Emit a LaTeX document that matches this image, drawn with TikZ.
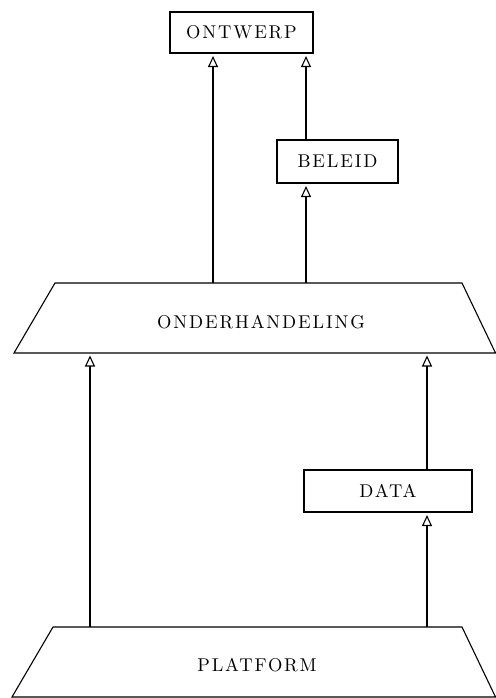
\documentclass[tikz,border=0pt]{standalone}
\usepackage{fontspec}
\usepackage{graphicx}
\usetikzlibrary{arrows.meta}
\newfontfamily\labelfont[LetterSpace=10]{Latin Modern Roman}
% label text: 10pt design size enlarged, so the wide text cut is kept
\newcommand{\blocklabel}[1]{\scalebox{1.85}{\labelfont\fontsize{10}{12}\selectfont #1}}
\begin{document}
\begin{tikzpicture}[x=1pt,y=-1pt,
  line width=1.1pt,
  lbl/.style={inner sep=0pt},
  boxnode/.style={draw, rectangle, lbl},
  flow/.style={-{Triangle[open,length=11pt,width=10pt,line width=1.1pt]}, shorten >=2.5pt}
]
\useasboundingbox (0,0) rectangle (495,698);

% rectangular blocks
\node[boxnode, minimum width=143pt, minimum height=41pt] (ontwerp) at (241.5,32.5) {\blocklabel{ONTWERP}};
\node[boxnode, minimum width=121pt, minimum height=43pt] (beleid) at (337.5,161.5) {\blocklabel{BELEID}};
\node[boxnode, minimum width=168pt, minimum height=42pt] (data) at (388,491) {\blocklabel{DATA}};

% trapezoidal layers
\draw (55,283) -- (462,283) -- (495.5,353) -- (14,353) -- cycle;
\node[lbl] (onderh) at (261,322) {\blocklabel{ONDERHANDELING}};
\draw (53,627) -- (462,627) -- (495.5,697) -- (12,697) -- cycle;
\node[lbl] (platform) at (257,665) {\blocklabel{PLATFORM}};

% attachment points on the trapezoids
\coordinate (ondTopL) at (213,283);
\coordinate (ondTopR) at (306,283);
\coordinate (ondBotL) at (90,353);
\coordinate (ondBotR) at (427,353);
\coordinate (platTopL) at (90,627);
\coordinate (platTopR) at (427,627);

% connectors
\draw[flow] (ondTopL) -- (ontwerp.south -| ondTopL);
\draw[flow] (ondTopR) -- (beleid.south -| ondTopR);
\draw[flow] (beleid.north -| ondTopR) -- (ontwerp.south -| ondTopR);
\draw[flow] (platTopL) -- (ondBotL);
\draw[flow] (platTopR) -- (data.south -| platTopR);
\draw[flow] (data.north -| platTopR) -- (ondBotR);
\end{tikzpicture}
\end{document}
